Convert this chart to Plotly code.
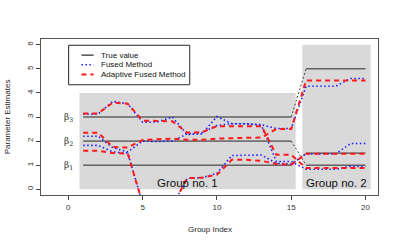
import plotly.graph_objects as go

# ---------------- data ----------------
group_index = [1, 2, 3, 4, 5, 6, 7, 8, 9, 10, 11, 12, 13, 14, 15, 16, 17, 18, 19, 20]

true_1 = [1, 1, 1, 1, 1, 1, 1, 1, 1, 1, 1, 1, 1, 1, 1, 1.5, 1.5, 1.5, 1.5, 1.5]
true_2 = [2, 2, 2, 2, 2, 2, 2, 2, 2, 2, 2, 2, 2, 2, 2, 1, 1, 1, 1, 1]
true_3 = [3, 3, 3, 3, 3, 3, 3, 3, 3, 3, 3, 3, 3, 3, 3, 5, 5, 5, 5, 5]

fused_1 = [1.82, 1.82, 1.55, 1.5, -0.6, -1.2, -0.7, 0.45, 0.48, 0.66, 1.4, 1.4, 1.42, 1.08, 1.05, 1.47, 1.47, 1.47, 1.9, 1.9]
fused_2 = [2.2, 2.2, 1.72, 1.55, 2.0, 1.98, 2.0, 2.3, 2.35, 2.65, 2.72, 2.72, 2.65, 1.15, 1.15, 0.83, 0.83, 0.83, 0.95, 0.95]
fused_3 = [3.12, 3.12, 3.65, 3.55, 2.78, 2.8, 3.0, 2.27, 2.3, 3.02, 2.72, 2.72, 2.68, 2.52, 2.52, 4.28, 4.28, 4.28, 4.6, 4.6]

adaptive_1 = [1.6, 1.6, 1.5, 1.48, -0.6, -1.2, -0.7, 0.46, 0.48, 0.6, 1.22, 1.22, 1.18, 1.05, 1.02, 1.47, 1.47, 1.47, 1.47, 1.47]
adaptive_2 = [2.35, 2.35, 1.75, 1.73, 2.05, 2.08, 2.1, 2.05, 2.05, 2.1, 2.12, 2.15, 2.15, 2.5, 2.5, 4.52, 4.52, 4.52, 4.52, 4.52]
adaptive_3 = [3.15, 3.15, 3.6, 3.55, 2.85, 2.85, 2.82, 2.35, 2.37, 2.62, 2.62, 2.62, 2.62, 1.43, 1.43, 0.88, 0.88, 0.88, 0.88, 0.88]

x_ticks = [0, 5, 10, 15, 20]
y_ticks = [0, 1, 2, 3, 4, 5, 6]
beta_labels = ["β<sub>1</sub>", "β<sub>2</sub>", "β<sub>3</sub>"]
beta_levels = [1, 2, 3]
group_labels = ["Group no. 1", "Group no. 2"]
legend_labels = ["True value", "Fused Method", "Adaptive Fused Method"]

# ---------------- styles ----------------
FONT = "Liberation Sans"
BLACK = "#262626"
BLUE_DASH = "1.5px,2.5px"
RED_DASH = "5px,4px"

fig = go.Figure()

# grey group regions
fig.add_shape(type="rect", x0=0.75, x1=15.3, y0=0, y1=4.0,
              fillcolor="#d9d9d9", line_width=0, layer="below")
fig.add_shape(type="rect", x0=15.75, x1=20.35, y0=0, y1=6.0,
              fillcolor="#d9d9d9", line_width=0, layer="below")

# true values: solid within groups, dotted between groups
for tv in (true_1, true_2, true_3):
    fig.add_trace(go.Scatter(x=group_index[:15], y=tv[:15], mode="lines",
                             line=dict(color=BLACK, width=1), showlegend=False, hoverinfo="skip"))
    fig.add_trace(go.Scatter(x=group_index[15:], y=tv[15:], mode="lines",
                             line=dict(color=BLACK, width=1), showlegend=False, hoverinfo="skip"))
    fig.add_trace(go.Scatter(x=group_index[14:16], y=tv[14:16], mode="lines",
                             line=dict(color="#444444", width=1, dash="2px,2px"),
                             showlegend=False, hoverinfo="skip"))

for fv in (fused_1, fused_2, fused_3):
    fig.add_trace(go.Scatter(x=group_index, y=fv, mode="lines",
                             line=dict(color="#1f1fff", width=1.6, dash=BLUE_DASH),
                             showlegend=False, hoverinfo="skip"))

for av in (adaptive_1, adaptive_2, adaptive_3):
    fig.add_trace(go.Scatter(x=group_index, y=av, mode="lines",
                             line=dict(color="#ff1a1a", width=2, dash=RED_DASH),
                             showlegend=False, hoverinfo="skip"))

annotations = []
# beta labels
for lab, lev in zip(beta_labels, beta_levels):
    annotations.append(dict(x=0, y=lev, xref="x", yref="y", text=lab, showarrow=False,
                            font=dict(family="DejaVu Serif", size=9, color=BLACK),
                            xanchor="center", yanchor="middle"))
# group labels
annotations.append(dict(x=8.02, y=0.27, xref="x", yref="y", text=group_labels[0], showarrow=False,
                        font=dict(family=FONT, size=11.5, color="#111111"),
                        xanchor="center", yanchor="middle"))
annotations.append(dict(x=18.05, y=0.27, xref="x", yref="y", text=group_labels[1], showarrow=False,
                        font=dict(family=FONT, size=11.5, color="#111111"),
                        xanchor="center", yanchor="middle"))

# legend (manual, R style)
fig.add_shape(type="rect", x0=0.02, x1=8.17, y0=4.34, y1=5.98, xref="x", yref="y",
              line=dict(color=BLACK, width=1), fillcolor="white", layer="above")
leg_rows = [5.57, 5.17, 4.77]
leg_styles = [dict(color=BLACK, width=1.2),
              dict(color="#1f1fff", width=1.6, dash=BLUE_DASH),
              dict(color="#ff1a1a", width=2, dash=RED_DASH)]
for lab, yy, st in zip(legend_labels, leg_rows, leg_styles):
    fig.add_shape(type="line", x0=0.88, x1=1.7, y0=yy, y1=yy, xref="x", yref="y",
                  line=st, layer="above")
    annotations.append(dict(x=2.08, y=yy, xref="x", yref="y", text=lab, showarrow=False,
                            font=dict(family=FONT, size=8, color="#111111"),
                            xanchor="left", yanchor="middle"))

# axis titles
annotations.append(dict(x=0.5, y=-0.224, xref="paper", yref="paper", text="Group Index",
                        showarrow=False, font=dict(family=FONT, size=8, color=BLACK),
                        xanchor="center", yanchor="middle"))
annotations.append(dict(x=-0.1, y=0.5, xref="paper", yref="paper", text="Parameter Estimates",
                        showarrow=False, textangle=-90, font=dict(family=FONT, size=8, color=BLACK),
                        xanchor="center", yanchor="middle"))

fig.update_layout(
    width=399, height=245,
    margin=dict(l=41, r=21, t=39, b=50),
    paper_bgcolor="white", plot_bgcolor="white",
    showlegend=False,
    annotations=annotations,
    font=dict(family=FONT, size=8, color=BLACK),
)
fig.update_xaxes(range=[-1.84, 20.84], tickvals=x_ticks, ticks="outside", ticklen=4,
                 tickcolor="#444444", tickfont=dict(size=8, color="#333333"),
                 showgrid=False, zeroline=False, showline=True, mirror=True,
                 linecolor="#555555", linewidth=1)
fig.update_yaxes(range=[-0.24, 6.24], tickvals=y_ticks, ticks="outside", ticklen=4,
                 tickcolor="#444444", tickfont=dict(size=8, color="#333333"), tickangle=-90,
                 showgrid=False, zeroline=False, showline=True, mirror=True,
                 linecolor="#555555", linewidth=1)

# remove the browser's default body margin so the figure sits at the window's corner
fig.write_html("out.html",
               config={"displayModeBar": False, "staticPlot": True},
               post_script="document.body.style.margin='0';document.body.style.overflow='hidden';")
